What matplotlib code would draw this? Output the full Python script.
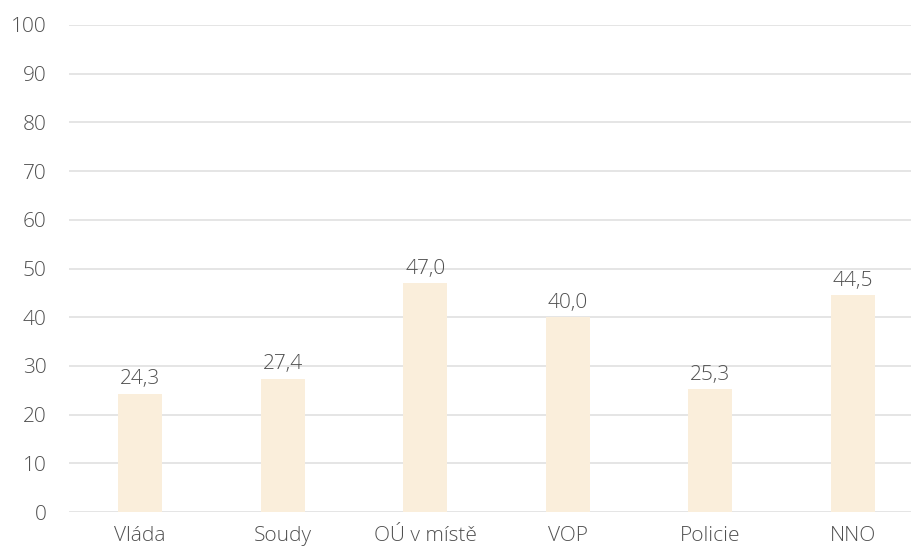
import matplotlib
matplotlib.use("Agg")
import matplotlib.pyplot as plt

categories = ["Vláda", "Soudy", "OÚ v místě", "VOP", "Policie", "NNO"]
values = [24.3, 27.4, 47.0, 40.0, 25.3, 44.5]
labels = ["24,3", "27,4", "47,0", "40,0", "25,3", "44,5"]
yticks = [0, 10, 20, 30, 40, 50, 60, 70, 80, 90, 100]

plt.rcParams['font.family'] = ['Open Sans', 'DejaVu Sans']
txt = '#505050'
fs = 15

fig = plt.figure(figsize=(9.12, 5.51), dpi=100)
ax = fig.add_axes([69/912, 39/551, 1 - 69/912, 487/551])
x = list(range(len(categories)))
ax.bar(x, values, width=0.31, color='#FAEEDB', zorder=2)
for xi, v, l in zip(x, values, labels):
    ax.annotate(l, (xi, v), xytext=(0, 3), textcoords='offset points',
                ha='center', va='bottom', fontsize=fs, color=txt, fontweight='light')
ax.set_xlim(-0.5, 5.416)
ax.set_ylim(0, 100)
ax.set_yticks(yticks)
ax.set_xticks(x)
ax.set_xticklabels(categories)
for lab in ax.get_xticklabels() + ax.get_yticklabels():
    lab.set_fontweight('light')
ax.grid(axis='y', color='#e3e3e3', linewidth=1.3, zorder=0)
for s in ax.spines.values():
    s.set_visible(False)
ax.tick_params(axis='both', length=0, labelsize=fs, colors=txt)
ax.tick_params(axis='y', pad=16)
ax.tick_params(axis='x', pad=10)
fig.savefig("out.png", dpi=100)
